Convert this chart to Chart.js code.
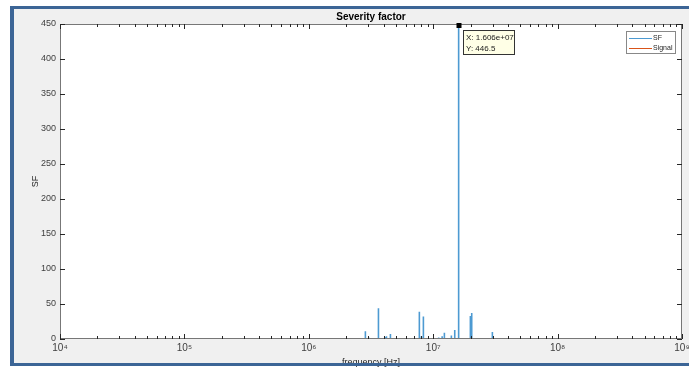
<!DOCTYPE html>
<html><head><meta charset="utf-8">
<script src="https://cdn.jsdelivr.net/npm/chart.js@4.4.1/dist/chart.umd.min.js"></script>
<style>html,body{margin:0;padding:0;background:#fff}#wrap{width:689px;height:367px;position:relative}</style>
</head><body><div id="wrap"><canvas id="c" width="689" height="367"></canvas></div>
<script>
// ---- data ----
const chartTitle = 'Severity factor';
const xAxisTitle = 'frequency [Hz]';
const yAxisTitle = 'SF';
const seriesNames = ['SF', 'Signal'];
// SF spikes: frequency (Hz) and value
const spikeFreq  = [2.85e6, 3.03e6, 3.63e6, 4.08e6, 4.21e6, 4.53e6, 7.74e6, 8.04e6, 8.34e6, 1.107e7, 1.18e7, 1.23e7, 1.40e7, 1.49e7, 1.595e7, 1.606e7, 1.99e7, 2.04e7, 2.99e7];
const spikeValue = [11,     2,      44,     3,      4,      7,      39,     4,      32,     2,       4,      9,      5,      13,     17,      446.5,   33,     37,     10];
// baseline range (both series sit on zero here)
const baseFreq = [2e4, 1e9];
const signalValue = [0, 0];
// ticks
const xTickValues = [1e4, 1e5, 1e6, 1e7, 1e8, 1e9];
const xTickLabels = ['10\u2074', '10\u2075', '10\u2076', '10\u2077', '10\u2078', '10\u2079'];
const yTickValues = [0, 50, 100, 150, 200, 250, 300, 350, 400, 450];
// datatip
const tipX = 1.606e7, tipY = 446.5;
const tipLines = ['X: 1.606e+07', 'Y: 446.5'];

// ---- build datasets ----
const sfPoints = [{x: baseFreq[0], y: 0}];
spikeFreq.forEach((f, i) => { sfPoints.push({x: f, y: 0}, {x: f, y: spikeValue[i]}, {x: f, y: 0}); });
sfPoints.push({x: baseFreq[1], y: 0});
const signalPoints = baseFreq.map((f, i) => ({x: f, y: signalValue[i]}));

const SF_COLOR = '#4d9ad2';
const SIG_COLOR = '#D95319';
const FONT = '"Liberation Sans", Arial, Helvetica, sans-serif';
const FRAME = '#3c6596';

const decorPlugin = {
  id: 'decor',
  beforeDraw(chart) {
    const c = chart.ctx, a = chart.chartArea;
    c.save();
    c.fillStyle = '#ffffff'; c.fillRect(0, 0, chart.width, chart.height);
    c.fillStyle = '#f0f0f0'; c.fillRect(14, 9, chart.width - 14, 354);
    c.fillStyle = '#ffffff'; c.fillRect(a.left, a.top, a.right - a.left, a.bottom - a.top);
    c.restore();
  },
  afterDatasetsDraw(chart) {
    const c = chart.ctx, a = chart.chartArea;
    const xs = chart.scales.x, ys = chart.scales.y;
    c.save();
    c.strokeStyle = '#777'; c.lineWidth = 1;
    c.strokeRect(a.left + 0.5, a.top + 0.5, a.right - a.left - 1, a.bottom - a.top - 1);
    c.strokeStyle = '#262626';
    c.beginPath();
    yTickValues.forEach(v => {
      const y = Math.round(ys.getPixelForValue(v)) + 0.5;
      c.moveTo(a.left, y); c.lineTo(a.left + 5, y);
      c.moveTo(a.right, y); c.lineTo(a.right - 5, y);
    });
    for (let k = 0; k < xTickValues.length; k++) {
      const dec = xTickValues[k];
      for (let m = 1; m <= 9; m++) {
        const v = dec * m;
        if (v > xTickValues[xTickValues.length - 1]) break;
        const x = Math.round(xs.getPixelForValue(v)) + 0.5;
        const len = m === 1 ? 5 : 3;
        c.moveTo(x, a.bottom); c.lineTo(x, a.bottom - len);
        c.moveTo(x, a.top); c.lineTo(x, a.top + len);
      }
    }
    c.stroke();
    c.restore();
  },
  afterDraw(chart) {
    const c = chart.ctx, a = chart.chartArea;
    const xs = chart.scales.x, ys = chart.scales.y;
    c.save();
    c.fillStyle = '#000';
    c.font = 'bold 10px ' + FONT;
    c.textAlign = 'center'; c.textBaseline = 'alphabetic';
    c.fillText(chartTitle, (a.left + a.right) / 2, 20);
    c.fillStyle = '#262626';
    c.font = '9px ' + FONT;
    c.fillText(xAxisTitle, (a.left + a.right) / 2, 365);
    c.save();
    c.translate(38, (a.top + a.bottom) / 2);
    c.rotate(-Math.PI / 2);
    c.fillText(yAxisTitle, 0, 0);
    c.restore();
    // datatip
    const px = xs.getPixelForValue(tipX), py = ys.getPixelForValue(tipY);
    c.fillStyle = '#000';
    c.fillRect(Math.round(px) - 2.5, Math.round(py) - 3, 5, 5);
    const bx = Math.round(px) + 4, by = 30;
    c.fillStyle = '#ffffe6'; c.fillRect(bx, by, 52, 25);
    c.strokeStyle = '#333'; c.lineWidth = 1; c.strokeRect(bx + 0.5, by + 0.5, 51, 24);
    c.fillStyle = '#1a1a1a'; c.font = '8px ' + FONT; c.textAlign = 'left';
    c.fillText(tipLines[0], bx + 3, by + 10);
    c.fillText(tipLines[1], bx + 3, by + 21);
    // legend
    const lx = 626, ly = 31;
    c.fillStyle = '#fff'; c.fillRect(lx, ly, 50, 23);
    c.strokeStyle = '#888'; c.strokeRect(lx + 0.5, ly + 0.5, 49, 22);
    const cols = [SF_COLOR, SIG_COLOR];
    seriesNames.forEach((n, i) => {
      const yy = ly + 7 + i * 10 + 0.5;
      c.strokeStyle = cols[i]; c.lineWidth = 1;
      c.beginPath(); c.moveTo(lx + 3, yy); c.lineTo(lx + 26, yy); c.stroke();
      c.fillStyle = '#262626'; c.font = '7px ' + FONT; c.textBaseline = 'middle';
      c.fillText(n, lx + 27, yy);
    });
    // outer frame
    c.fillStyle = FRAME;
    c.fillRect(10, 6, 4, 360);
    c.fillRect(10, 6, chart.width - 10, 3);
    c.fillRect(10, 363, chart.width - 10, 3);
    c.restore();
  }
};

new Chart(document.getElementById('c'), {
  type: 'scatter',
  data: {
    datasets: [
      {label: seriesNames[0], data: sfPoints, showLine: true, borderColor: SF_COLOR, backgroundColor: SF_COLOR, borderWidth: 1.6, pointRadius: 0, order: 2},
      {label: seriesNames[1], data: signalPoints, showLine: true, borderColor: SIG_COLOR, backgroundColor: SIG_COLOR, borderWidth: 1.2, pointRadius: 0, order: 1}
    ]
  },
  options: {
    responsive: false,
    animation: false,
    events: [],
    layout: {padding: {top: 24, right: 7, bottom: 0, left: 0}},
    plugins: {legend: {display: false}, tooltip: {enabled: false}, title: {display: false}},
    scales: {
      x: {
        type: 'logarithmic', min: xTickValues[0], max: xTickValues[xTickValues.length - 1],
        afterBuildTicks: (s) => { s.ticks = xTickValues.map(v => ({value: v})); },
        afterFit: (s) => { s.height = 28; s.paddingLeft = 0; s.paddingRight = 0; },
        grid: {display: false, drawTicks: false},
        border: {display: false},
        ticks: {
          autoSkip: false, maxRotation: 0, padding: 3, color: '#404040',
          font: {family: FONT, size: 10},
          callback: (v) => { const i = xTickValues.indexOf(v); return i >= 0 ? xTickLabels[i] : ''; }
        }
      },
      y: {
        type: 'linear', min: yTickValues[0], max: yTickValues[yTickValues.length - 1],
        afterBuildTicks: (s) => { s.ticks = yTickValues.map(v => ({value: v})); },
        afterFit: (s) => { s.width = 60; s.paddingTop = 0; s.paddingBottom = 0; },
        grid: {display: false, drawTicks: false},
        border: {display: false},
        ticks: {padding: 4, color: '#404040', font: {family: FONT, size: 9}}
      }
    }
  },
  plugins: [decorPlugin]
});
</script>
</body></html>
